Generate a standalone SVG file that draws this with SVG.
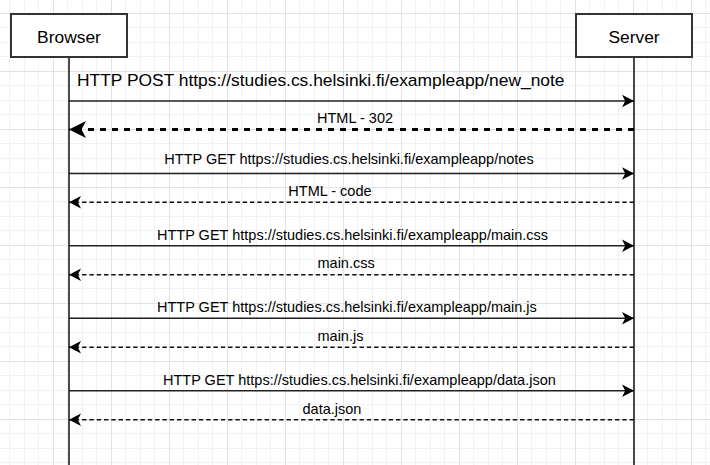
<svg xmlns="http://www.w3.org/2000/svg" width="710" height="465" viewBox="0 0 710 465">
  <defs>
    <!-- background grid: 58px major cells split into four minor steps -->
    <pattern id="grid" x="53" y="13" width="58" height="58" patternUnits="userSpaceOnUse">
      <rect x="14" y="0" width="1" height="58" fill="#f2f2f2"/>
      <rect x="29" y="0" width="1" height="58" fill="#f2f2f2"/>
      <rect x="43" y="0" width="1" height="58" fill="#f2f2f2"/>
      <rect x="0" y="14" width="58" height="1" fill="#f2f2f2"/>
      <rect x="0" y="29" width="58" height="1" fill="#f2f2f2"/>
      <rect x="0" y="43" width="58" height="1" fill="#f2f2f2"/>
      <rect x="0" y="0" width="1" height="58" fill="#e2e2e2"/>
      <rect x="0" y="0" width="58" height="1" fill="#e2e2e2"/>
    </pattern>
    <!-- classic notched arrowheads, tip at the reference point -->
    <marker id="head" markerUnits="userSpaceOnUse" viewBox="-14 -8 16 16" refX="0" refY="0" markerWidth="16" markerHeight="16" orient="auto" overflow="visible">
      <path d="M0,0 L-12,-6.3 L-8.8,0 L-12,6.3 Z" fill="#000"/>
    </marker>
    <marker id="head-bold" markerUnits="userSpaceOnUse" viewBox="-19 -10 20 20" refX="0" refY="0" markerWidth="20" markerHeight="20" orient="auto" overflow="visible">
      <path d="M0,0 L-17,-8.5 L-12.5,0 L-17,8.5 Z" fill="#000"/>
    </marker>
  </defs>
  <style>
    text { font-family: "Liberation Sans", Arial, sans-serif; fill: #000; }
    .actor rect { fill: #fff; stroke: #333; stroke-width: 2; }
    .actor text { font-size: 17.4px; text-anchor: middle; }
    .lifeline { stroke: #111; stroke-width: 1.5; fill: none; }
    .msg text { font-size: 14.5px; }
    .msg .big { font-size: 17.4px; }
    .call { stroke: #222; stroke-width: 1.5; fill: none; marker-end: url(#head); }
    .reply { stroke: #111; stroke-width: 1.5; stroke-dasharray: 4.4 2.9; fill: none; marker-end: url(#head); }
    .reply-bold { stroke: #000; stroke-width: 3; stroke-dasharray: 6 6; fill: none; marker-end: url(#head-bold); }
  </style>

  <rect width="710" height="465" fill="#fff"/>
  <rect width="710" height="465" fill="url(#grid)"/>

  <g id="node-browser" class="actor">
    <line class="lifeline" x1="69" y1="57" x2="69" y2="465"/>
    <rect x="11" y="14" width="116" height="43"/>
    <text x="69" y="43.3">Browser</text>
  </g>

  <g id="node-server" class="actor">
    <line class="lifeline" x1="634" y1="57" x2="634" y2="465"/>
    <rect x="576" y="14" width="116" height="43"/>
    <text x="634" y="43.3">Server</text>
  </g>

  <g id="messages">
    <g class="msg">
      <line class="call" x1="69" y1="101" x2="634" y2="101"/>
      <text class="big" x="77" y="86">HTTP POST https://studies.cs.helsinki.fi/exampleapp/new_note</text>
    </g>
    <g class="msg">
      <line class="reply-bold" x1="634" y1="129.5" x2="69" y2="129.5"/>
      <text x="317" y="123.2">HTML - 302</text>
    </g>
    <g class="msg">
      <line class="call" x1="69" y1="173.5" x2="634" y2="173.5"/>
      <text x="164.3" y="164.3">HTTP GET https://studies.cs.helsinki.fi/exampleapp/notes</text>
    </g>
    <g class="msg">
      <line class="reply" x1="634" y1="202.3" x2="69" y2="202.3"/>
      <text x="288.3" y="195.7">HTML - code</text>
    </g>
    <g class="msg">
      <line class="call" x1="69" y1="245.8" x2="634" y2="245.8"/>
      <text x="157" y="240.2">HTTP GET https://studies.cs.helsinki.fi/exampleapp/main.css</text>
    </g>
    <g class="msg">
      <line class="reply" x1="634" y1="274.8" x2="69" y2="274.8"/>
      <text x="317.5" y="268.2">main.css</text>
    </g>
    <g class="msg">
      <line class="call" x1="69" y1="318.3" x2="634" y2="318.3"/>
      <text x="157" y="312.2">HTTP GET https://studies.cs.helsinki.fi/exampleapp/main.js</text>
    </g>
    <g class="msg">
      <line class="reply" x1="634" y1="347.3" x2="69" y2="347.3"/>
      <text x="317.5" y="341.2">main.js</text>
    </g>
    <g class="msg">
      <line class="call" x1="69" y1="390.8" x2="634" y2="390.8"/>
      <text x="163" y="385">HTTP GET https://studies.cs.helsinki.fi/exampleapp/data.json</text>
    </g>
    <g class="msg">
      <line class="reply" x1="634" y1="419.8" x2="69" y2="419.8"/>
      <text x="302.5" y="414.2">data.json</text>
    </g>
  </g>
</svg>
